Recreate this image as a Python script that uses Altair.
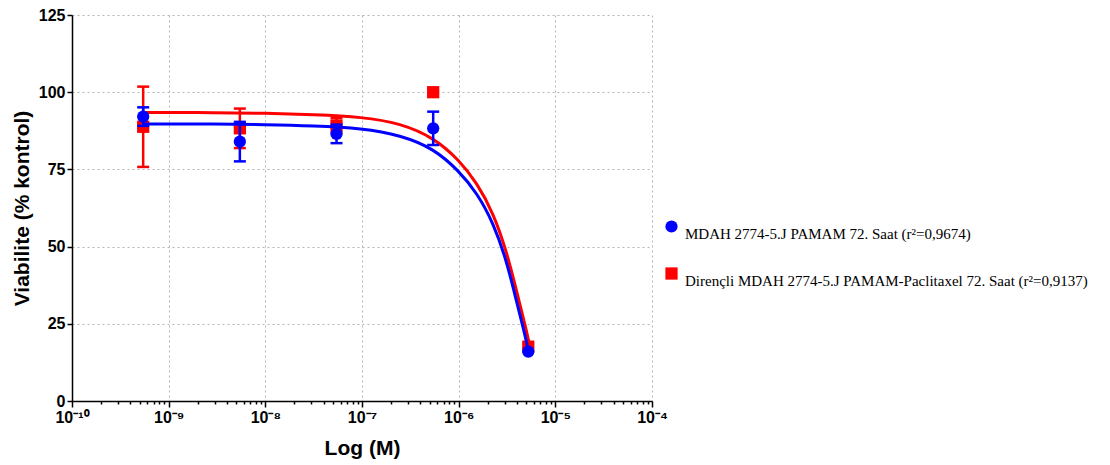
import altair as alt
import pandas as pd

SERIES = [
    "MDAH 2774-5.J PAMAM 72. Saat (r²=0,9674)",
    "Dirençli MDAH 2774-5.J PAMAM-Paclitaxel 72. Saat (r²=0,9137)",
]
COLORS = ["#0000ff", "#ff0000"]
SHAPES = ["circle", "square"]

# measured points (concentration in M)
CONC = [5.45e-10, 5.45e-9, 5.45e-8, 5.45e-7, 5.25e-6]
BLUE_Y = [92.1, 84.0, 86.5, 88.3, 16.0]
BLUE_ERR = [3.0, 6.4, 3.0, 5.4, 0.0]
RED_Y = [88.8, 88.3, 89.2, 100.0, 17.6]
RED_ERR = [13.0, 6.4, 2.4, 0.0, 0.0]

# fitted curves (log10 M, % viability)
BLUE_FIT_LOGX = [-9.26, -8.5, -8.0, -7.5, -7.0, -6.6, -6.26, -6.0, -5.81, -5.64, -5.50, -5.40, -5.33, -5.28]
BLUE_FIT_Y = [89.7, 89.7, 89.5, 89.1, 88.3, 86.1, 81.8, 74.6, 67.4, 57.6, 45.0, 32.0, 23.5, 16.5]
RED_FIT_LOGX = [-9.26, -8.5, -8.0, -7.5, -7.0, -6.6, -6.26, -6.0, -5.81, -5.64, -5.50, -5.40, -5.30, -5.27]
RED_FIT_Y = [93.4, 93.4, 93.2, 92.7, 92.0, 89.9, 85.3, 78.2, 70.6, 60.8, 48.0, 35.5, 23.0, 18.5]

X_TICKS = [m * 10.0 ** e for e in range(-10, -4) for m in range(1, 10)] + [1e-4]
Y_TICKS = [0, 25, 50, 75, 100, 125]

rows = []
for s, ys, es in [(SERIES[0], BLUE_Y, BLUE_ERR), (SERIES[1], RED_Y, RED_ERR)]:
    for c, y, e in zip(CONC, ys, es):
        rows.append({"series": s, "conc": c, "v": y, "lo": y - e, "hi": y + e, "err": e})
points = pd.DataFrame(rows)

crow = []
for s, lx, ys in [(SERIES[0], BLUE_FIT_LOGX, BLUE_FIT_Y), (SERIES[1], RED_FIT_LOGX, RED_FIT_Y)]:
    for a, y in zip(lx, ys):
        crow.append({"series": s, "conc": 10.0 ** a, "v": y})
curves = pd.DataFrame(crow)

is_dec = "abs(log(datum.value)/LN10 - round(log(datum.value)/LN10)) < 0.001"
sup = "('' + round(log(datum.value)/LN10))"
for a, b in [("-", "⁻"), ("0", "⁰"), ("1", "¹"), ("4", "⁴"), ("5", "⁵"),
             ("6", "⁶"), ("7", "⁷"), ("8", "⁸"), ("9", "⁹")]:
    sup = f"replace({sup}, '{a}', '{b}')"
label_expr = f"{is_dec} ? '10' + {sup} : ''"

xscale = alt.Scale(type="log", domain=[1e-10, 1e-4], nice=False)
yscale = alt.Scale(domain=[0, 125], nice=False, zero=True)

xaxis = alt.Axis(
    values=X_TICKS, labelExpr=label_expr, labelFlush=False, labelOverlap=False,
    grid=True,
    gridOpacity=alt.condition(is_dec, alt.value(1), alt.value(0)),
    tickSize=alt.condition(is_dec, alt.value(6), alt.value(3)),
    title="Log (M)", titlePadding=12,
)
yaxis = alt.Axis(values=Y_TICKS, grid=True, title="Viabilite (% kontrol)", titlePadding=6)

X = alt.X("conc:Q", scale=xscale, axis=xaxis)
Y = alt.Y("v:Q", scale=yscale, axis=yaxis)

legend = alt.Legend(
    title=None, orient="none", legendX=592, legendY=204,
    labelFont="Liberation Serif", labelFontSize=15, labelColor="black",
    labelBaseline="top", labelLimit=0, symbolSize=150, rowPadding=24,
    padding=0, labelOffset=6,
)
color = alt.Color("series:N", scale=alt.Scale(domain=SERIES, range=COLORS), legend=legend)
shape = alt.Shape("series:N", scale=alt.Scale(domain=SERIES, range=SHAPES), legend=legend)


def series_layers(idx):
    s = SERIES[idx]
    col = COLORS[idx]
    line = alt.Chart(curves).transform_filter(alt.datum.series == s).mark_line(
        color=col, strokeWidth=3, interpolate="basis"
    ).encode(x=X, y=Y, order="conc:Q")
    errs = points[(points.series == s) & (points.err > 0)]
    rule = alt.Chart(errs).mark_rule(color=col, strokeWidth=2.5).encode(
        x=X, y=alt.Y("lo:Q", scale=yscale), y2="hi:Q")
    cap_lo = alt.Chart(errs).mark_tick(color=col, orient="horizontal", size=12, thickness=2.5,
                                       opacity=1).encode(x=X, y=alt.Y("lo:Q", scale=yscale))
    cap_hi = alt.Chart(errs).mark_tick(color=col, orient="horizontal", size=12, thickness=2.5,
                                       opacity=1).encode(x=X, y=alt.Y("hi:Q", scale=yscale))
    pts = alt.Chart(points).transform_filter(alt.datum.series == s).mark_point(
        filled=True, size=150, opacity=1
    ).encode(x=X, y=Y, color=color, shape=shape)
    return [line, rule, cap_lo, cap_hi, pts]


chart = alt.layer(*(series_layers(1) + series_layers(0))).properties(
    width=580, height=386,
    autosize=alt.AutoSizeParams(type="none"),
    padding={"left": 72, "top": 15, "right": 458, "bottom": 64},
).configure_view(stroke=None).configure_axis(
    domainColor="black", domainWidth=1.5, tickColor="black", tickWidth=1.5,
    labelFont="Liberation Sans", labelFontSize=16, labelFontWeight="bold", labelColor="black",
    titleFont="Liberation Sans", titleFontSize=21, titleFontWeight="bold", titleColor="black",
    gridColor="#b4b4b4", gridDash=[2, 3], gridWidth=1, labelPadding=2,
)

chart.save("out.html", embed_options={"renderer": "svg", "actions": False})
